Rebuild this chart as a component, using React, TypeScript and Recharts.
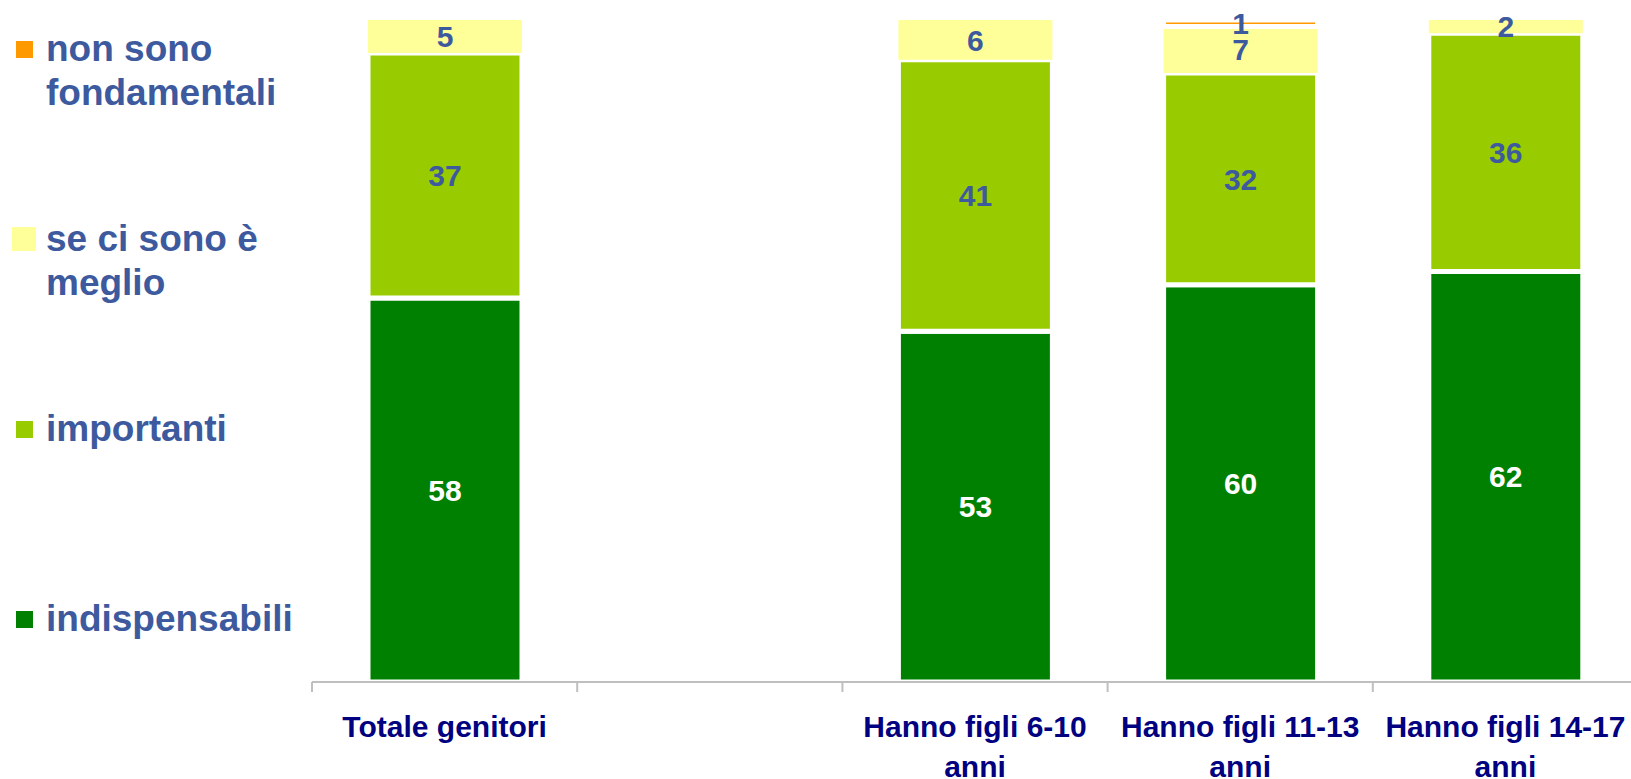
import React from "react";
import { BarChart, Bar, XAxis, YAxis, LabelList } from "recharts";

const CATEGORIES = [
  "Totale genitori",
  "",
  "Hanno figli 6-10\nanni",
  "Hanno figli 11-13\nanni",
  "Hanno figli 14-17\nanni",
];
const INDISPENSABILI = [58, null, 53, 60, 62];
const IMPORTANTI = [37, null, 41, 32, 36];
const SE_CI_SONO = [5, null, 6, 7, 2];
const NON_SONO = [null, null, null, 1, null];

const SERIES = [
  { key: "indispensabili", label: "indispensabili", values: INDISPENSABILI, color: "#008000", text: "#FFFFFF", stroke: true, marker: 17 },
  { key: "importanti", label: "importanti", values: IMPORTANTI, color: "#99CC00", text: "#3D5A9E", stroke: true, marker: 17 },
  { key: "seCiSono", label: "se ci sono è\nmeglio", values: SE_CI_SONO, color: "#FFFF99", text: "#3D5A9E", stroke: false, marker: 24 },
  { key: "nonSono", label: "non sono\nfondamentali", values: NON_SONO, color: "#FF9900", text: "#3D5A9E", stroke: true, marker: 17 },
];

const data = CATEGORIES.map((name, i) => {
  const row: any = { name };
  SERIES.forEach((s) => {
    row[s.key] = s.values[i];
  });
  return row;
});

const FONT = '"Liberation Sans", Arial, Helvetica, sans-serif';
const CHART_W = 1640;
const CHART_H = 779;
const MARGIN = { top: 20, right: 2, bottom: 0, left: 312 };
const BAND = (CHART_W - MARGIN.left - MARGIN.right) / CATEGORIES.length;
const AXIS_COLOR = "#BFBFBF";

function CategoryTick(props: any) {
  const { x, y, payload } = props;
  const lines = String(payload.value).split("\n");
  return (
    <g>
      <line x1={x - BAND / 2} x2={x - BAND / 2} y1={y} y2={y + 10} stroke={AXIS_COLOR} strokeWidth={2} />
      <text x={x} y={y + 55} textAnchor="middle" fill="#000080" fontSize={30} fontWeight="bold" fontFamily={FONT}>
        {lines.map((l, i) => (
          <tspan key={i} x={x} dy={i === 0 ? 0 : 40}>
            {l}
          </tspan>
        ))}
      </text>
    </g>
  );
}

function LegendBlock() {
  const items = [...SERIES].reverse();
  return (
    <div style={{ position: "absolute", left: 0, top: 0, width: 300, height: 779 }}>
      {items.map((s, i) => (
        <div key={s.key} style={{ position: "absolute", left: 0, top: 27 + i * 190, width: 300 }}>
          <div
            style={{
              position: "absolute",
              left: 24 - s.marker / 2,
              top: 22 - s.marker / 2,
              width: s.marker,
              height: s.marker,
              background: s.color,
            }}
          />
          <div
            style={{
              position: "absolute",
              left: 46,
              top: 0,
              whiteSpace: "pre-line",
              fontFamily: FONT,
              fontWeight: "bold",
              fontSize: 37,
              lineHeight: "44px",
              color: "#3D5A9E",
            }}
          >
            {s.label}
          </div>
        </div>
      ))}
    </div>
  );
}

export default function App() {
  return (
    <div
      style={{
        position: "fixed",
        left: 0,
        top: 0,
        width: 1631,
        height: 779,
        overflow: "hidden",
        background: "#FFFFFF",
      }}
    >
      <BarChart width={CHART_W} height={CHART_H} data={data} margin={MARGIN}>
        <XAxis
          dataKey="name"
          interval={0}
          height={97}
          tickLine={false}
          tickSize={0}
          tickMargin={0}
          axisLine={{ stroke: AXIS_COLOR, strokeWidth: 2 }}
          tick={<CategoryTick />}
        />
        <YAxis hide domain={[0, 100]} type="number" />
        {SERIES.map((s) => (
          <Bar
            key={s.key}
            dataKey={s.key}
            stackId="a"
            fill={s.color}
            stroke={s.stroke ? "#FFFFFF" : "none"}
            strokeWidth={s.stroke ? 5 : 0}
            barSize={154}
            isAnimationActive={false}
          >
            <LabelList
              dataKey={s.key}
              position="center"
              fill={s.text}
              fontSize={30}
              fontWeight="bold"
              fontFamily={FONT}
              formatter={(v: any) => (v == null ? "" : v)}
            />
          </Bar>
        ))}
      </BarChart>
      <LegendBlock />
    </div>
  );
}
